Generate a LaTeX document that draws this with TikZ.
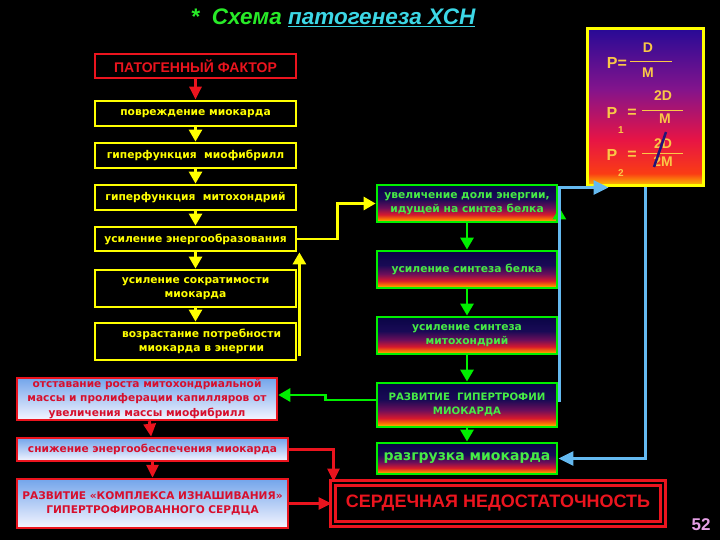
\documentclass[tikz,border=0pt]{standalone}
\usepackage{fontspec}
\setmainfont{DejaVu Sans}
\newfontfamily\arialfont{Liberation Sans}
\usetikzlibrary{arrows.meta, positioning, calc}

% colours
\definecolor{yel}{RGB}{255,255,0}
\definecolor{grn}{RGB}{0,240,0}
\definecolor{gtxt}{RGB}{70,235,70}
\definecolor{rline}{RGB}{235,20,30}
\definecolor{rtxt}{RGB}{215,15,45}
\definecolor{sky}{RGB}{100,185,240}
\definecolor{gold}{RGB}{250,200,70}
\definecolor{tgreen}{RGB}{40,235,40}
\definecolor{tcyan}{RGB}{60,215,230}
\definecolor{pagenum}{RGB}{230,160,230}
\definecolor{slash}{RGB}{35,20,120}

% box fillings
\pgfdeclareverticalshading{greenfill}{100bp}{color(0bp)=(rgb,255:red,235;green,215;blue,0); color(25bp)=(rgb,255:red,235;green,215;blue,0); color(29bp)=(rgb,255:red,250;green,120;blue,0); color(35bp)=(rgb,255:red,215;green,25;blue,45); color(44bp)=(rgb,255:red,110;green,15;blue,90); color(56bp)=(rgb,255:red,25;green,10;blue,85); color(75bp)=(rgb,255:red,10;green,5;blue,70); color(100bp)=(rgb,255:red,10;green,5;blue,70)}
\pgfdeclareverticalshading{bluefill}{100bp}{color(0bp)=(rgb,255:red,245;green,245;blue,255); color(25bp)=(rgb,255:red,245;green,245;blue,255); color(75bp)=(rgb,255:red,115;green,165;blue,235); color(100bp)=(rgb,255:red,115;green,165;blue,235)}
\pgfdeclareverticalshading{formfill}{100bp}{color(0bp)=(rgb,255:red,250;green,200;blue,0); color(25bp)=(rgb,255:red,250;green,200;blue,0); color(29bp)=(rgb,255:red,250;green,60;blue,20); color(40bp)=(rgb,255:red,230;green,20;blue,70); color(56bp)=(rgb,255:red,130;green,20;blue,140); color(75bp)=(rgb,255:red,40;green,10;blue,150); color(100bp)=(rgb,255:red,40;green,10;blue,150)}

\begin{document}
\begin{tikzpicture}[x=1pt, y=-1pt,
    ybox/.style={draw=yel, line width=2.8pt, text=yel, font=\bfseries\fontsize{10.7}{14}\selectfont, minimum width=201pt, minimum height=25pt, align=center, inner sep=0pt},
    gbox/.style={draw=grn, line width=2.8pt, shade, shading=greenfill, text=gtxt, font=\bfseries\fontsize{10.7}{14}\selectfont, minimum width=180pt, minimum height=37pt, align=center, inner sep=0pt},
    rbox/.style={draw=rline, line width=2.5pt, shade, shading=bluefill, text=rtxt, font=\bfseries\fontsize{10.6}{14.5}\selectfont, align=center, inner sep=0pt},
    fbox/.style={draw=yel, line width=3pt, shade, shading=formfill, minimum width=116pt, minimum height=157pt},
    ftext/.style={text=gold, font=\arialfont\bfseries\fontsize{14}{14}\selectfont, inner sep=0pt},
    fsub/.style={text=gold, font=\arialfont\bfseries\fontsize{10}{10}\selectfont, inner sep=0pt},
    yarrow/.style={draw=yel, line width=2.8pt, -{Triangle[length=12pt,width=13pt]}},
    garrow/.style={draw=grn, line width=2.8pt, -{Triangle[length=12pt,width=13pt]}},
    rarrow/.style={draw=rline, line width=3pt, -{Triangle[length=13pt,width=12pt]}},
    barrow/.style={draw=sky, line width=3pt, -{Triangle[length=15pt,width=14pt]}}
]

% background
\fill[black] (0,0) rectangle (720,540);
\useasboundingbox (0,0) rectangle (720,540);

% title
\node[font=\arialfont\bfseries\itshape\fontsize{22.5}{22.5}\selectfont, inner sep=0pt] (title) at (333,18)
    {\textcolor{tgreen}{*\ \ Схема} \textcolor{tcyan}{\underline{патогенеза ХСН}}};

% left column
\node[ybox, draw=rline, text=rline, minimum height=24pt, font=\arialfont\bfseries\fontsize{14}{14}\selectfont] (factor) at (195.5,66) {ПАТОГЕННЫЙ ФАКТОР};
\node[ybox] (povr) at (195.5,113.5) {повреждение миокарда};
\node[ybox] (miof) at (195.5,155.5) {гиперфункция\ \ миофибрилл};
\node[ybox] (mito) at (195.5,197.5) {гиперфункция\ \ митохондрий};
\node[ybox, minimum height=24pt] (energ) at (195.5,239) {усиление энергообразования};
\node[ybox, minimum height=37pt] (sokr) at (195.5,288.5) {усиление сократимости\\миокарда};
\node[ybox, minimum height=37pt] (vozr) at (195.5,341.5) {\hspace{12pt}возрастание потребности\\\hspace{12pt}миокарда в энергии};

\draw[rarrow] (factor) -- (povr);
\draw[yarrow] (povr) -- (miof);
\draw[yarrow] (miof) -- (mito);
\draw[yarrow] (mito) -- (energ);
\draw[yarrow] (energ) -- (sokr);
\draw[yarrow] (sokr) -- (vozr);
\draw[yarrow] ([xshift=2pt,yshift=5pt]vozr.south east) -- ([xshift=2pt]energ.south east);

% right column
\node[gbox] (dolya) at (467,203.5) {увеличение доли энергии,\\идущей на синтез белка};
\node[gbox] (belok) at (467,269.5) {усиление синтеза белка};
\node[gbox] (smito) at (467,335.5) {усиление синтеза\\митохондрий};
\node[gbox, minimum height=44pt, font=\bfseries\fontsize{10.2}{14}\selectfont] (gipert) at (467,405) {РАЗВИТИЕ\ \ ГИПЕРТРОФИИ\\МИОКАРДА};
\node[gbox, minimum height=31pt, font=\bfseries\fontsize{14}{16}\selectfont] (razgr) at (467,458.5) {разгрузка миокарда};

\draw[yarrow] (energ.east) -- ++(40,0) |- (dolya.west);
\draw[garrow] (dolya) -- (belok);
\draw[garrow] (belok) -- (smito);
\draw[garrow] (smito) -- (gipert);
\draw[garrow] (gipert) -- (razgr);
\draw[garrow] ([xshift=1pt,yshift=5pt]gipert.east) -- ([xshift=1pt,yshift=-4pt]dolya.east);

% lower left boxes
\node[rbox, minimum width=260pt, minimum height=42pt] (otst) at (147,399) {отставание роста митохондриальной\\массы и пролиферации капилляров от\\увеличения массы миофибрилл};
\node[rbox, minimum width=271pt, minimum height=23pt] (snizh) at (152.5,449.5) {снижение энергообеспечения миокарда};
\node[rbox, minimum width=271pt, minimum height=49pt] (kompl) at (152.5,503.5) {РАЗВИТИЕ «КОМПЛЕКСА ИЗНАШИВАНИЯ»\\ГИПЕРТРОФИРОВАННОГО СЕРДЦА};

\draw[garrow] ([yshift=5pt]gipert.west) -- ++(-50,0) |- ([yshift=4pt]otst.east);
\draw[rarrow] (otst) -- (snizh);
\draw[rarrow] (snizh) -- (kompl);

% heart failure
\node[draw=rline, line width=3pt, double=black, double distance=1.2pt, text=rline, font=\arialfont\bfseries\fontsize{18}{18}\selectfont, minimum width=330pt, minimum height=41pt] (serd) at (498,503.5) {СЕРДЕЧНАЯ НЕДОСТАТОЧНОСТЬ};

\draw[rarrow] (snizh.east) -| ([xshift=2pt]serd.north west);
\draw[rarrow] (kompl.east) -- (serd.west);

% formula box
\node[fbox] (form) at (645,107.5) {};
\node[ftext, font=\arialfont\bfseries\fontsize{16}{16}\selectfont] (p0) at (617,63) {P=};
\node[ftext] (d0) at (648,48) {D};
\node[ftext] (m0) at (648,73) {M};
\draw[gold, line width=0.8pt] (630,61) -- (672,61);

\node[ftext, font=\arialfont\bfseries\fontsize{16}{16}\selectfont] (p1) at (612,113) {P};
\node[fsub] (s1) at (621,130) {1};
\node[ftext, font=\arialfont\bfseries\fontsize{16}{16}\selectfont] (e1) at (632,113) {=};
\node[ftext] (d1) at (663,96) {2D};
\node[ftext] (m1) at (665,119) {M};
\draw[gold, line width=0.8pt] (642,110) -- (683,110);

\node[ftext, font=\arialfont\bfseries\fontsize{16}{16}\selectfont] (p2) at (612,155) {P};
\node[fsub] (s2) at (621,173) {2};
\node[ftext, font=\arialfont\bfseries\fontsize{16}{16}\selectfont] (e2) at (632,155) {=};
\node[ftext] (d2) at (663,144) {2D};
\node[ftext] (m2) at (663,162) {2M};
\draw[gold, line width=0.8pt] (642,153) -- (683,153);
\draw[slash, line width=2.5pt] (654,167) -- (666,132);

% blue feedback
\draw[barrow] ([xshift=1pt,yshift=3pt]gipert.east) |- ([xshift=23pt]form.south west);
\draw[barrow] (form.south) |- (razgr.east);

% slide number
\node[text=pagenum, font=\arialfont\bfseries\fontsize{17}{17}\selectfont] (num) at (701,525) {52};

\end{tikzpicture}
\end{document}
